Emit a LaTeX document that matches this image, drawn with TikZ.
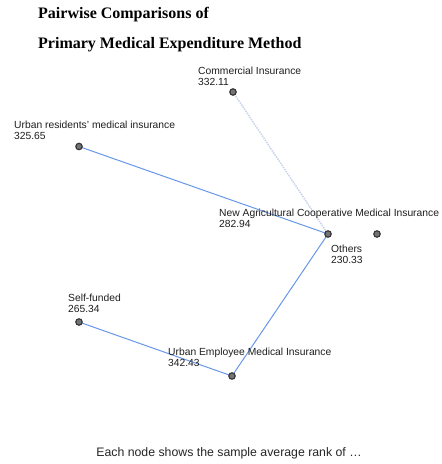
\documentclass[tikz,border=0pt]{standalone}
\usepackage{fontspec}
\setmainfont{Liberation Sans}
\newfontfamily\titlefont{Liberation Serif}
\definecolor{edgeblue}{RGB}{104,152,232}
\definecolor{faintblue}{RGB}{200,212,236}
\begin{document}
\begin{tikzpicture}[x=1pt,y=-1pt,
  dot/.style={circle,fill=black!55,draw=black!80,line width=1.1pt,minimum size=6.5pt,inner sep=0pt},
  lbl/.style={anchor=north west,inner sep=0pt,align=left,text=black!88,font=\fontsize{10.3}{11}\selectfont},
  edge/.style={draw=edgeblue,line width=1pt},
  faint/.style={draw=faintblue,line width=1.5pt,densely dotted}]
\useasboundingbox (0,0) rectangle (442,464);
\fill[white] (0,0) rectangle (442,464);
\node[anchor=base west,inner sep=0pt,font=\titlefont\bfseries\fontsize{16}{18}\selectfont] (t1) at (38,18.5) {Pairwise Comparisons of};
\node[anchor=base west,inner sep=0pt,font=\titlefont\bfseries\fontsize{16}{18}\selectfont] (t2) at (38,48.5) {Primary Medical Expenditure Method};
% node positions
\coordinate (cC) at (233,92);
\coordinate (cU) at (79,146.5);
\coordinate (cN) at (328,234);
\coordinate (cO) at (377,234);
\coordinate (cS) at (79,322);
\coordinate (cE) at (232,376);
% edges
\draw[faint] (cC) -- (cN);
\draw[edge] (cU) -- (cN);
\draw[edge] (cN) -- (cE);
\draw[edge] (cS) -- (cE);
\node[dot] (C) at (cC) {};
\node[dot] (U) at (cU) {};
\node[dot] (N) at (cN) {};
\node[dot] (O) at (cO) {};
\node[dot] (S) at (cS) {};
\node[dot] (E) at (cE) {};
% labels
\node[lbl] (lC) at (198,67) {Commercial Insurance\\332.11};
\node[lbl] (lU) at (14,121) {Urban residents' medical insurance\\325.65};
\node[lbl] (lN) at (219,209) {New Agricultural Cooperative Medical Insurance\\282.94};
\node[lbl] (lO) at (331,245) {Others\\230.33};
\node[lbl] (lS) at (68,294) {Self-funded\\265.34};
\node[lbl] (lE) at (168,348) {Urban Employee Medical Insurance\\342.43};
\node[anchor=base,inner sep=0pt,text=black!85,font=\fontsize{12.3}{14}\selectfont] (foot) at (229,456) {Each node shows the sample average rank of \dots};
\end{tikzpicture}
\end{document}
